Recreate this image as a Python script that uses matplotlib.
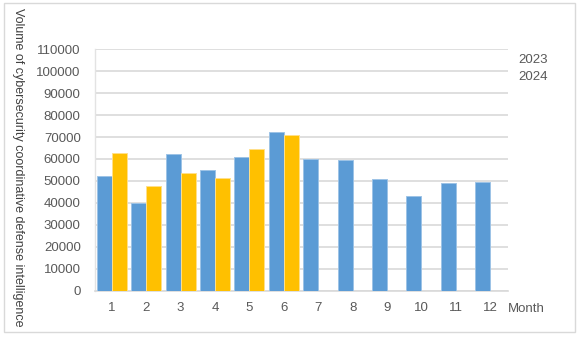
import matplotlib
matplotlib.use("Agg")
import matplotlib.pyplot as plt
from matplotlib.patches import Rectangle
import numpy as np

plt.rcParams['font.family'] = ['Liberation Sans', 'DejaVu Sans']

months = [1, 2, 3, 4, 5, 6, 7, 8, 9, 10, 11, 12]
series_2023 = [52400, 40000, 62200, 55000, 60900, 72100, 60000, 59400, 50900, 42900, 49100, 49500]
series_2024 = [62500, 47800, 53500, 51400, 64700, 70700]
yticks = list(range(0, 110001, 10000))
legend_labels = ["2023", "2024"]
ylabel = "Volume of cybersecurity coordinative defense intelligence"
xlabel = "Month"

W, H = 581, 339
fig = plt.figure(figsize=(W / 100, H / 100), dpi=100)
ax = fig.add_axes([94.5 / W, 48.5 / H, (507.5 - 94.5) / W, (290.5 - 49.3) / H])

bw = 0.435
blue = "#5B9BD5"
yellow = "#FFC000"
x = np.array(months, dtype=float)
ax.bar(x - bw / 2, series_2023, width=bw, color=blue, edgecolor="#9DC3E6", linewidth=0.7, zorder=3)
x2 = np.array(months[:len(series_2024)], dtype=float)
ax.bar(x2 + bw / 2, series_2024, width=bw, color=yellow, edgecolor="#FFE08A", linewidth=0.7, zorder=3)

ax.set_xlim(0.5, 12.5)
ax.set_ylim(0, 110000)
ax.set_yticks(yticks)
ax.set_yticklabels([str(v) for v in yticks])
ax.set_xticks(months)
ax.set_xticklabels([str(m) for m in months])
ax.tick_params(axis='both', length=0, labelsize=9.5, labelcolor="#595959")
ax.tick_params(axis='y', pad=9.9)
ax.tick_params(axis='x', pad=8.6)
ax.yaxis.grid(True, color="#D9D9D9", linewidth=1.2, zorder=0)
ax.set_axisbelow(True)
for s in ["top", "right"]:
    ax.spines[s].set_visible(False)
ax.spines["left"].set_color("#E3E3E3")
ax.spines["left"].set_linewidth(1.0)
ax.spines["bottom"].set_color("#D9D9D9")
ax.spines["bottom"].set_linewidth(1.2)

fig.text(508 / W, 1 - 309 / H, xlabel, ha="left", va="center", fontsize=9.5, color="#595959")
fig.text(17.8 / W, 1 - 167.5 / H, ylabel, ha="center", va="center", rotation=270, fontsize=9, color="#404040")
fig.text(518 / W, 1 - 60 / H, legend_labels[0], ha="left", va="center", fontsize=9.5, color="#595959")
fig.text(518 / W, 1 - 77 / H, legend_labels[1], ha="left", va="center", fontsize=9.5, color="#595959")

fig.patches.append(Rectangle((3.7 / W, (H - 331.7) / H), (575 - 3.7) / W, (331.7 - 3.3) / H,
                             transform=fig.transFigure, fill=False, edgecolor="#D9D9D9", linewidth=1.0))

fig.savefig("out.png", dpi=100)
